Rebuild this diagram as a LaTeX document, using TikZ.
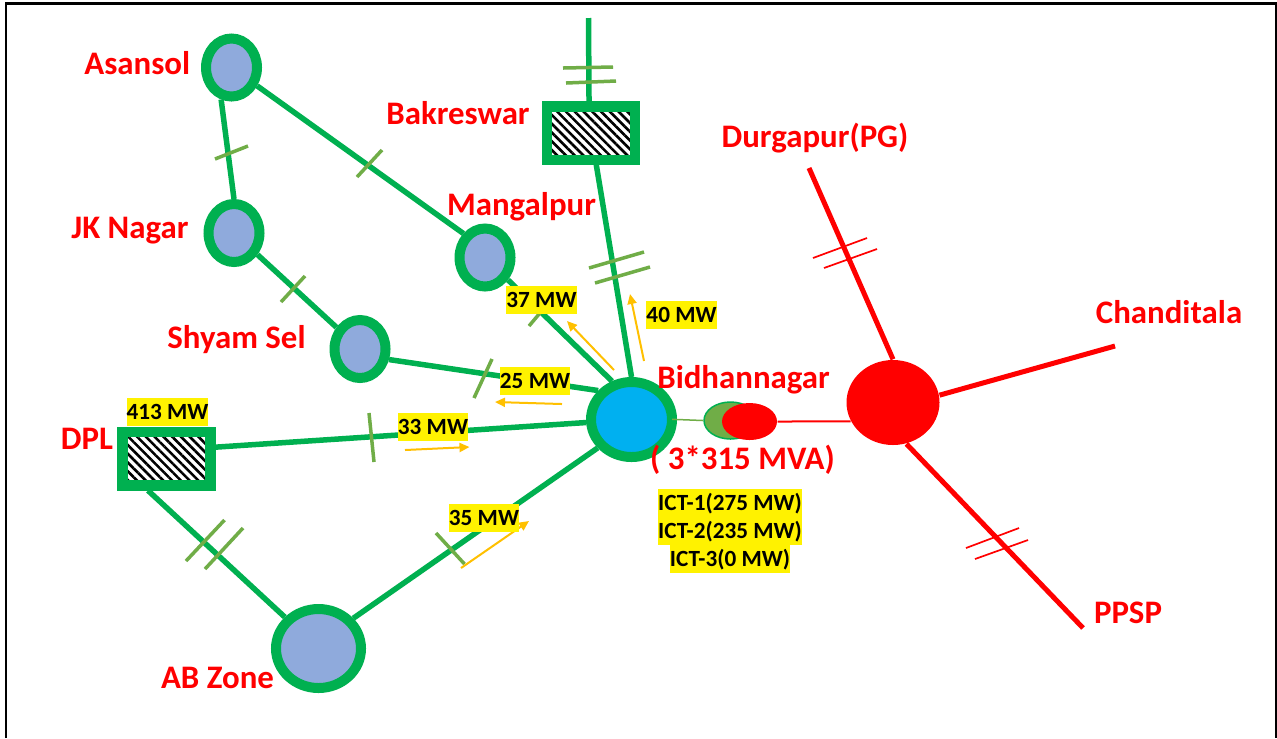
\documentclass[tikz,border=0pt]{standalone}
\usepackage{fontspec}
\setmainfont{Carlito}
\usetikzlibrary{arrows.meta,patterns.meta,shapes.geometric}
\definecolor{grn}{HTML}{00B050}
\definecolor{tck}{HTML}{70AD47}
\definecolor{sub}{HTML}{8FAADC}
\definecolor{hub}{HTML}{00B0F0}
\definecolor{flow}{HTML}{FFC000}
\tikzset{
  every picture/.style={line cap=butt, line join=miter,
    >={Triangle[length=0.1cm,width=0.09cm]}},
  % Linientypen
  frameline/.style={line width=0.025cm},
  feeder/.style={grn, line width=0.055cm},
  redline/.style={red, line width=0.05cm},
  tick/.style={tck, line width=0.035cm},
  redtick/.style={red, line width=0.017cm},
  flowarrow/.style={flow, line width=0.02cm, ->},
  % Stationen
  bus/.style={ellipse, draw=grn, fill=sub, line width=0.1cm, inner sep=0pt,
    minimum width=0.51cm, minimum height=0.58cm},
  plant/.style={rectangle, draw=grn, line width=0.105cm, inner sep=0pt,
    pattern={Lines[angle=-45,distance=0.062cm,line width=0.026cm]},
    minimum width=0.88cm, minimum height=0.535cm},
  % Beschriftung
  stn/.style={red, anchor=base, inner sep=0pt, font=\fontsize{9.35pt}{11pt}\selectfont\bfseries},
  mw/.style={fill=yellow, text=black, inner xsep=0pt, inner ysep=0pt, minimum height=0.28cm,
    text height=0.15cm, text depth=0cm, font=\fontsize{6.6pt}{8pt}\selectfont\bfseries},
}
\begin{document}
\begin{tikzpicture}[yscale=-1]
  \useasboundingbox (0,0) rectangle (12.77,7.38);
  \fill[white] (0,0) rectangle (12.77,7.38);
  \draw[frameline] (0.06,7.38) -- (0.06,0.035) -- (12.76,0.035) -- (12.76,7.38);
  % Stationen
  \node[bus] (asansol) at (2.315,0.675) {};
  \node[bus] (jknagar) at (2.34,2.33) {};
  \node[bus] (mangalpur) at (4.85,2.575) {};
  \node[bus] (shyamsel) at (3.60,3.49) {};
  \node[bus, minimum width=0.85cm, minimum height=0.79cm] (abzone) at (3.185,6.485) {};
  \node[plant] (bakreswar) at (5.91,1.33) {};
  \node[plant] (dpl) at (1.665,4.585) {};
  \node[bus, fill=hub, minimum width=0.81cm, minimum height=0.75cm] (bidhan) at (6.315,4.195) {};
  \node[ellipse, fill=red, inner sep=0pt, minimum width=0.93cm, minimum height=0.85cm] (redhub) at (8.93,4.025) {};
  % Leitungen
  \coordinate (baktop) at (5.885,0.18);
  \coordinate (durgapurend) at (8.09,1.68);
  \coordinate (chanditalaend) at (11.15,3.46);
  \coordinate (ppspend) at (10.83,6.28);
  \draw[feeder] (asansol.-108) -- (jknagar.90);
  \draw[feeder] (asansol) -- (mangalpur.132);
  \draw[feeder] (jknagar) -- (shyamsel);
  \draw[feeder] (mangalpur) -- (bidhan.117);
  \draw[feeder] (shyamsel.-20) -- (bidhan.139);
  \draw[feeder] (dpl.13) -- (bidhan);
  \draw[feeder] (dpl.-120) -- (abzone.137);
  \draw[feeder] (abzone.41) -- (bidhan.220);
  \draw[feeder] (baktop) -- (bakreswar.94);
  \draw[feeder, shorten <=0.03cm] (bakreswar) -- (bidhan.north);
  \draw[redline] (durgapurend) -- (redhub.90);
  \draw[redline] (chanditalaend) -- (redhub.9);
  \draw[redline] (ppspend) -- (redhub.-72);
  % Transformator
  \node[ellipse, draw=grn, fill=tck, line width=0.015cm, inner sep=0pt, minimum width=0.53cm, minimum height=0.37cm] (ictgreen) at (7.305,4.205) {};
  \node[ellipse, fill=red, inner sep=0pt, minimum width=0.55cm, minimum height=0.37cm] (ictred) at (7.495,4.215) {};
  \draw[tck, line width=0.015cm, shorten <=-0.05cm] (bidhan.east) -- (ictgreen.west);
  \draw[red, line width=0.02cm] (ictred.east) -- (redhub.204);
  % Querstriche
  \draw[tick] (2.15,1.59) -- (2.48,1.46);
  \draw[tick] (3.57,1.77) -- (3.82,1.50);
  \draw[tick] (2.81,3.02) -- (3.05,2.76);
  \draw[tick] (5.29,3.26) -- (5.45,3.07);
  \draw[tick] (4.92,3.59) -- (4.74,3.98);
  \draw[tick] (5.63,0.68) -- (6.13,0.67);
  \draw[tick] (5.66,0.83) -- (6.16,0.81);
  \draw[tick] (5.89,2.68) -- (6.44,2.52);
  \draw[tick] (5.95,2.83) -- (6.50,2.67);
  \draw[tick] (3.69,4.13) -- (3.74,4.62);
  \draw[tick] (1.86,5.61) -- (2.245,5.20);
  \draw[tick] (2.05,5.69) -- (2.43,5.28);
  \draw[tick] (4.36,5.33) -- (4.645,5.64);
  \draw[redtick] (8.13,2.58) -- (8.67,2.38);
  \draw[redtick] (8.24,2.68) -- (8.77,2.49);
  \draw[redtick] (9.66,5.48) -- (10.19,5.28);
  \draw[redtick] (9.75,5.59) -- (10.28,5.40);
  % Lastfluss
  \coordinate (f37a) at (6.14,3.70);
  \coordinate (f37b) at (5.67,3.21);
  \coordinate (f40a) at (6.44,3.61);
  \coordinate (f40b) at (6.30,2.94);
  \coordinate (f25a) at (5.62,4.04);
  \coordinate (f25b) at (4.95,4.02);
  \coordinate (f33a) at (4.05,4.50);
  \coordinate (f33b) at (4.695,4.47);
  \coordinate (f35a) at (4.61,5.68);
  \coordinate (f35b) at (5.29,5.21);
  \draw[flowarrow] (f37a) -- (f37b);
  \draw[flowarrow] (f40a) -- (f40b);
  \draw[flowarrow] (f25a) -- (f25b);
  \draw[flowarrow] (f33a) -- (f33b);
  \draw[flowarrow] (f35a) -- (f35b);
  % Werte
  \node[mw] (mw37) at (5.415,3.00) {37 MW};
  \node[mw] (mw40) at (6.815,3.15) {40 MW};
  \node[mw] (mw25) at (5.35,3.81) {25 MW};
  \node[mw] (mw33) at (4.33,4.265) {33 MW};
  \node[mw] (mw413) at (1.675,4.115) {413 MW};
  \node[mw] (mw35) at (4.84,5.18) {35 MW};
  \node[mw] (ict1) at (7.30,5.03) {ICT-1(275 MW)};
  \node[mw] (ict2) at (7.30,5.31) {ICT-2(235 MW)};
  \node[mw] (ict3) at (7.30,5.59) {ICT-3(0 MW)};
  % Namen
  \node[stn] (lblasansol) at (1.373,0.74) {Asansol};
  \node[stn] (lbljknagar) at (1.30,2.38) {JK Nagar};
  \node[stn] (lblbakreswar) at (4.58,1.24) {Bakreswar};
  \node[stn] (lblmangalpur) at (5.215,2.15) {Mangalpur};
  \node[stn] (lblshyamsel) at (2.365,3.48) {Shyam Sel};
  \node[stn] (lbldpl) at (0.87,4.49) {DPL};
  \node[stn] (lblabzone) at (2.175,6.88) {AB Zone};
  \node[stn] (lblbidhan) at (7.435,3.88) {Bidhannagar};
  \node[stn] (lblmva) at (7.425,4.69) {( 3*315 MVA)};
  \node[stn] (lbldurgapur) at (8.15,1.47) {Durgapur(PG)};
  \node[stn] (lblchanditala) at (11.69,3.23) {Chanditala};
  \node[stn] (lblppsp) at (11.28,6.23) {PPSP};
\end{tikzpicture}
\end{document}
